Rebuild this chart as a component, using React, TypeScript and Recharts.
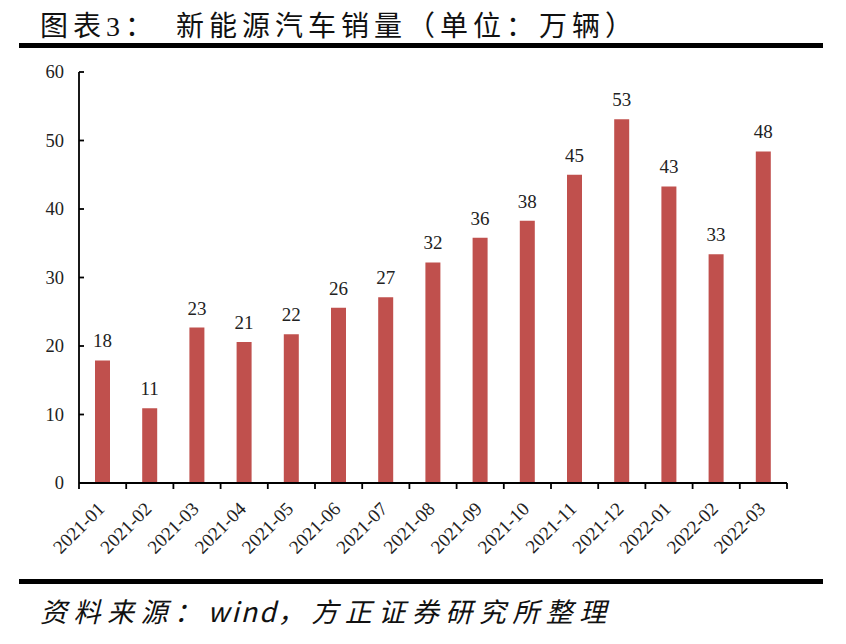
import React from "react";
import { Bar, BarChart, LabelList, XAxis, YAxis } from "recharts";

// 新能源汽车销量（万辆）
const months = [
  "2021-01", "2021-02", "2021-03", "2021-04", "2021-05",
  "2021-06", "2021-07", "2021-08", "2021-09", "2021-10",
  "2021-11", "2021-12", "2022-01", "2022-02", "2022-03",
];
const sales = [17.9, 10.9, 22.7, 20.6, 21.7, 25.6, 27.1, 32.2, 35.8, 38.3, 45.0, 53.1, 43.3, 33.4, 48.4];
const yTicks = [0, 10, 20, 30, 40, 50, 60];

const W = 846;
const H = 580;
const M = { top: 72, right: 59, left: 19, bottom: 37 };
const Y_AXIS_W = 60;
const X_AXIS_H = 60;
const PLOT_W = W - M.left - M.right - Y_AXIS_W;
const BAND = PLOT_W / months.length;

const SERIF = '"Liberation Serif", "Times New Roman", serif';
const CJK = '"Liberation Serif", "Noto Sans CJK SC", sans-serif';
const BAR_RED = "#C0504D";

const data = months.map((m, i) => ({ month: m, value: sales[i] }));

function XTick({ x, y, payload, index }: any) {
  const last = index === months.length - 1;
  return (
    <g>
      <line x1={x - BAND / 2} y1={y} x2={x - BAND / 2} y2={y + 6} stroke="#000" strokeWidth={1.8} />
      {last && (
        <line x1={x + BAND / 2} y1={y} x2={x + BAND / 2} y2={y + 6} stroke="#000" strokeWidth={1.8} />
      )}
      <text
        x={x + 3}
        y={y + 27}
        textAnchor="end"
        transform={`rotate(-45 ${x + 3} ${y + 27})`}
        fontFamily={SERIF}
        fontSize={19}
        fill="#222"
      >
        {payload.value}
      </text>
    </g>
  );
}

function YTick({ x, y, payload }: any) {
  return (
    <g>
      <line x1={x} y1={y} x2={x + 5} y2={y} stroke="#000" strokeWidth={1.8} />
      <text x={x - 15} y={y + 6} textAnchor="end" fontFamily={SERIF} fontSize={18.5} fill="#222">
        {payload.value}
      </text>
    </g>
  );
}

export default function App() {
  return (
    <div style={{ position: "absolute", left: 0, top: 0, width: 846, height: 644, background: "#fff" }}>
      <div
        style={{
          position: "absolute",
          left: 40,
          top: 4,
          fontFamily: CJK,
          fontSize: 28,
          letterSpacing: 5,
          color: "#111",
          whiteSpace: "nowrap",
        }}
      >
        图表3：
      </div>
      <div
        style={{
          position: "absolute",
          left: 176,
          top: 4,
          fontFamily: CJK,
          fontSize: 28,
          letterSpacing: 5,
          color: "#111",
          whiteSpace: "nowrap",
        }}
      >
        新能源汽车销量（单位：万辆）
      </div>
      <div style={{ position: "absolute", left: 19, top: 43, width: 804, height: 5, background: "#000" }} />

      <div style={{ position: "absolute", left: 0, top: 0 }}>
        <BarChart width={W} height={H} data={data} margin={M}>
          <XAxis
            dataKey="month"
            height={X_AXIS_H}
            interval={0}
            tickSize={0}
            tickMargin={0}
            tick={<XTick />}
            axisLine={{ stroke: "#000", strokeWidth: 1.8 }}
          />
          <YAxis
            width={Y_AXIS_W}
            domain={[0, 60]}
            ticks={yTicks}
            tickSize={0}
            tickMargin={0}
            tick={<YTick />}
            axisLine={{ stroke: "#000", strokeWidth: 1.8 }}
          />
          <Bar dataKey="value" fill={BAR_RED} barSize={15} isAnimationActive={false}>
            <LabelList
              dataKey="value"
              position="top"
              offset={13}
              formatter={(v: any) => Math.round(Number(v))}
              style={{ fontFamily: SERIF, fontSize: 19, fill: "#222" }}
            />
          </Bar>
        </BarChart>
      </div>

      <div style={{ position: "absolute", left: 19, top: 579, width: 804, height: 5, background: "#000" }} />
      <div
        style={{
          position: "absolute",
          left: 40,
          top: 591,
          fontFamily: '"Noto Sans CJK SC", sans-serif',
          fontSize: 27,
          fontStyle: "italic",
          letterSpacing: 6.5,
          color: "#111",
          whiteSpace: "nowrap",
        }}
      >
        资料来源：<span style={{ letterSpacing: 2 }}>wind</span>，方正证券研究所整理
      </div>
    </div>
  );
}
